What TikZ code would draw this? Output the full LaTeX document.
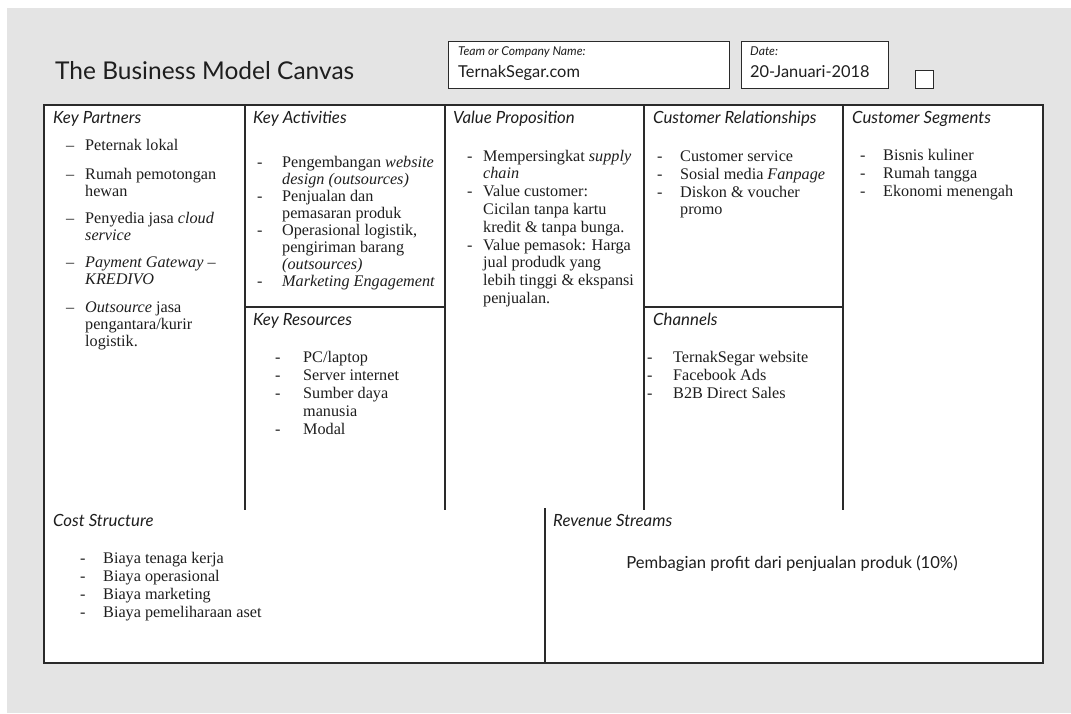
\documentclass[tikz,border=0pt]{standalone}
\usepackage{fontspec}
\setmainfont{Liberation Serif}
\newfontfamily\sansf{Lato}
\definecolor{bggray}{HTML}{E4E4E4}
\definecolor{linegray}{HTML}{2A2A2A}
\definecolor{inkc}{HTML}{1E1E1E}
\tikzset{
  rule/.style={draw=linegray, line width=1.4pt},
  body/.style={font=\fontsize{16.2}{18}\selectfont, text=inkc, anchor=base west, inner sep=0pt},
  head/.style={font=\sansf\itshape\fontsize{16.8}{19}\selectfont, text=inkc, anchor=base west, inner sep=0pt},
  small/.style={font=\sansf\itshape\fontsize{12.2}{14}\selectfont, text=inkc, anchor=base west, inner sep=0pt},
  field/.style={font=\sansf\fontsize{16.4}{18}\selectfont, text=inkc, anchor=base west, inner sep=0pt},
  hbox/.style={draw=linegray, line width=1.3pt, fill=white, anchor=north west, inner sep=0pt},
}
\begin{document}
\begin{tikzpicture}[x=1pt,y=-1pt]
\useasboundingbox (0,0) rectangle (1071,713);
\fill[white] (0,0) rectangle (1071,713);
\fill[bggray] (7,8) rectangle (1071,713);

% header
\node[font=\sansf\fontsize{24.5}{29}\selectfont, text=inkc, anchor=base west, inner sep=0pt] (title) at (55,79) {The Business Model Canvas};
\node[hbox, minimum width=281pt, minimum height=47pt] (teambox) at (448,41) {};
\node[small] (teamlbl) at (458,55) {Team or Company Name:};
\node[field] (teamname) at (458,77) {TernakSegar.com};
\node[hbox, minimum width=147pt, minimum height=47pt] (datebox) at (741,41) {};
\node[small] (datelbl) at (750,55) {Date:};
\node[field] (datetxt) at (750,77) {20-Januari-2018};
\node[hbox, minimum width=18pt, minimum height=18pt] (check) at (915,70) {};

% canvas
\fill[white] (44,105) rectangle (1043,663);
\draw[rule] (44,105) rectangle (1043,663);
\draw[rule] (245,105) -- (245,510);
\draw[rule] (445,105) -- (445,510);
\draw[rule] (644,105) -- (644,510);
\draw[rule] (843,105) -- (843,510);
\draw[rule] (545,508) -- (545,663);
\draw[rule] (245,307) -- (445,307);
\draw[rule] (644,307) -- (843,307);

% headings
\node[head] (hkp) at (53,123) {Key Partners};
\node[head] (hka) at (253,123) {Key Activities};
\node[head] (hvp) at (453,123) {Value Proposition};
\node[head] (hcr) at (653,123) {Customer Relationships};
\node[head] (hcs) at (852,123) {Customer Segments};
\node[head] (hkr) at (253,325) {Key Resources};
\node[head] (hch) at (653,325) {Channels};
\node[head] (hco) at (53,526) {Cost Structure};
\node[head] (hrs) at (553,526) {Revenue Streams};

% Key Partners
\node[body] (kpd1) at (66,150) {–};
\node[body] (kp1) at (85,150) {Peternak lokal};
\node[body] (kpd2) at (66,179) {–};
\node[body] (kp2a) at (85,179) {Rumah pemotongan};
\node[body] (kp2b) at (85,196) {hewan};
\node[body] (kpd3) at (66,223) {–};
\node[body] (kp3a) at (85,223) {Penyedia jasa \textit{cloud}};
\node[body] (kp3b) at (85,240) {\textit{service}};
\node[body] (kpd4) at (66,267) {–};
\node[body] (kp4a) at (85,267) {\textit{Payment Gateway} –};
\node[body] (kp4b) at (85,284) {\textit{KREDIVO}};
\node[body] (kpd5) at (66,312) {–};
\node[body] (kp5a) at (85,312) {\textit{Outsource} jasa};
\node[body] (kp5b) at (85,329) {pengantara/kurir};
\node[body] (kp5c) at (85,346) {logistik.};

% Key Activities
\node[body] (kad1) at (257,167) {-};
\node[body] (ka1a) at (282,167) {Pengembangan \textit{website}};
\node[body] (ka1b) at (282,184) {\textit{design (outsources)}};
\node[body] (kad2) at (257,201) {-};
\node[body] (ka2a) at (282,201) {Penjualan dan};
\node[body] (ka2b) at (282,218) {pemasaran produk};
\node[body] (kad3) at (257,235) {-};
\node[body] (ka3a) at (282,235) {Operasional logistik,};
\node[body] (ka3b) at (282,252) {pengiriman barang};
\node[body] (ka3c) at (282,269) {\textit{(outsources)}};
\node[body] (kad4) at (257,286) {-};
\node[body] (ka4) at (282,286) {\textit{Marketing Engagement}};

% Key Resources
\node[body] (krd1) at (275,362) {-};
\node[body] (kr1) at (303,362) {PC/laptop};
\node[body] (krd2) at (275,380) {-};
\node[body] (kr2) at (303,380) {Server internet};
\node[body] (krd3) at (275,398) {-};
\node[body] (kr3a) at (303,398) {Sumber daya};
\node[body] (kr3b) at (303,416) {manusia};
\node[body] (krd4) at (275,434) {-};
\node[body] (kr4) at (303,434) {Modal};

% Value Proposition
\node[body] (vpd1) at (467,161) {-};
\node[body] (vp1a) at (483,161) {Mempersingkat \textit{supply}};
\node[body] (vp1b) at (483,178.8) {\textit{chain}};
\node[body] (vpd2) at (467,196.6) {-};
\node[body] (vp2a) at (483,196.6) {Value customer:};
\node[body] (vp2b) at (483,214.4) {Cicilan tanpa kartu};
\node[body] (vp2c) at (483,232.2) {kredit \& tanpa bunga.};
\node[body] (vpd3) at (467,250) {-};
\node[body] (vp3a) at (483,250) {Value pemasok: Harga};
\node[body] (vp3b) at (483,267.8) {jual produdk yang};
\node[body] (vp3c) at (483,285.6) {lebih tinggi \& ekspansi};
\node[body] (vp3d) at (483,303.4) {penjualan.};

% Customer Relationships
\node[body] (crd1) at (657,161) {-};
\node[body] (cr1) at (680,161) {Customer service};
\node[body] (crd2) at (657,179) {-};
\node[body] (cr2) at (680,179) {Sosial media \textit{Fanpage}};
\node[body] (crd3) at (657,197) {-};
\node[body] (cr3a) at (680,197) {Diskon \& voucher};
\node[body] (cr3b) at (680,214) {promo};

% Channels
\node[body] (chd1) at (647,362) {-};
\node[body] (ch1) at (673,362) {TernakSegar website};
\node[body] (chd2) at (647,380) {-};
\node[body] (ch2) at (673,380) {Facebook Ads};
\node[body] (chd3) at (647,398) {-};
\node[body] (ch3) at (673,398) {B2B Direct Sales};

% Customer Segments
\node[body] (csd1) at (860,160) {-};
\node[body] (cs1) at (883,160) {Bisnis kuliner};
\node[body] (csd2) at (860,178) {-};
\node[body] (cs2) at (883,178) {Rumah tangga};
\node[body] (csd3) at (860,196) {-};
\node[body] (cs3) at (883,196) {Ekonomi menengah};

% Cost Structure
\node[body] (cod1) at (80,563) {-};
\node[body] (co1) at (103,563) {Biaya tenaga kerja};
\node[body] (cod2) at (80,581) {-};
\node[body] (co2) at (103,581) {Biaya operasional};
\node[body] (cod3) at (80,599) {-};
\node[body] (co3) at (103,599) {Biaya marketing};
\node[body] (cod4) at (80,617) {-};
\node[body] (co4) at (103,617) {Biaya pemeliharaan aset};

% Revenue Streams
\node[font=\sansf\fontsize{16.6}{19}\selectfont, text=inkc, anchor=base, inner sep=0pt] (rs1) at (792,568) {Pembagian profit dari penjualan produk (10\%)};
\end{tikzpicture}
\end{document}
